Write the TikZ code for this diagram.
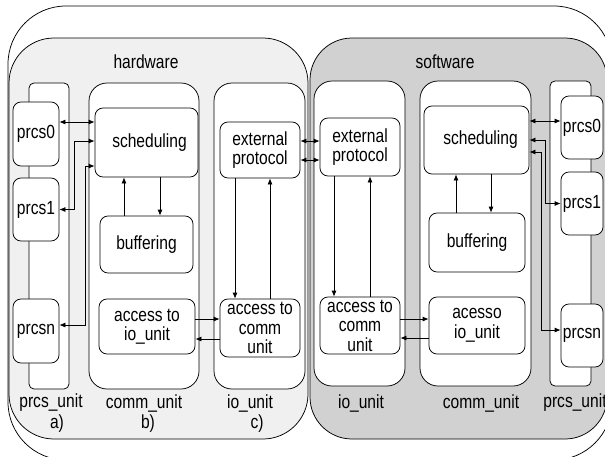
\documentclass[tikz,border=0pt]{standalone}
\usepackage{fontspec}
\setmainfont{Liberation Sans}[FakeStretch=0.82]
\usetikzlibrary{arrows.meta}

\tikzset{
  unitbox/.style={draw, fill=white, rounded corners=8pt, align=center, inner sep=1pt,
    font=\fontsize{19}{19.5}\selectfont},
  lbl/.style={font=\fontsize{19}{19.5}\selectfont, inner sep=0pt},
  colbox/.style={draw, fill=white},
  >={Latex[length=6pt,width=5pt]}
}

\begin{document}
\begin{tikzpicture}[x=1pt, y=-1pt, line width=0.75pt]
        \clip (0,0) rectangle (605,456);

        % frames
        \draw[fill=white, rounded corners=58pt] (8,6) rectangle (612,460);
        \draw[fill=black!6, rounded corners=45pt] (9,38) rectangle (308,439);
        \draw[fill=black!18, rounded corners=42pt] (310,38) rectangle (607,439);

        % hardware columns
        \draw[colbox, rounded corners=5pt] (29,83) rectangle (69,389);
        \draw[colbox, rounded corners=18pt] (89,83) rectangle (199,389);
        \draw[colbox, rounded corners=18pt] (214,83) rectangle (305,389);

        % software columns
        \draw[colbox, rounded corners=18pt] (314,81) rectangle (405,386);
        \draw[colbox, rounded corners=18pt] (420,81) rectangle (531,386);
        \draw[colbox, rounded corners=5pt] (550,81) rectangle (591,386);

        \node[lbl] (hw) at (146,62) {hardware};
        \node[lbl] (sw) at (445,62) {software};

        % hardware boxes
        \node[unitbox, minimum width=46, minimum height=64] (prcs0) at (36,134) {prcs0};
        \node[unitbox, minimum width=46, minimum height=63] (prcs1) at (36,209.5) {prcs1};
        \node[unitbox, minimum width=46, minimum height=64] (prcsn) at (36,331) {prcsn};
        \node[unitbox, minimum width=103, minimum height=69] (sched) at (146.5,142.5) {\hspace{6pt}scheduling};
        \node[unitbox, minimum width=93, minimum height=57] (buff) at (146.5,244.5) {buffering};
        \node[unitbox, minimum width=96, minimum height=55] (accIO) at (147,326.5) {access to\\io\_unit};
        \node[unitbox, minimum width=80, minimum height=56] (extP) at (260,150) {external\\protocol};
        \node[unitbox, minimum width=80, minimum height=58] (accComm) at (260,328) {access to\\comm\\unit};

        % software boxes
        \node[unitbox, minimum width=80, minimum height=58] (extP2) at (360,147) {external\\protocol};
        \node[unitbox, minimum width=80, minimum height=57] (accComm2) at (360,325.5) {access to\\comm\\unit};
        \node[unitbox, minimum width=105, minimum height=68] (sched2) at (476.5,140) {\hspace{8pt}scheduling};
        \node[unitbox, minimum width=96, minimum height=59] (buff2) at (477,242.5) {buffering};
        \node[unitbox, minimum width=96, minimum height=57] (acesso) at (477,325.5) {acesso\\io\_unit};
        \node[unitbox, minimum width=42, minimum height=63] (prcs0R) at (582,127.5) {prcs0};
        \node[unitbox, minimum width=42, minimum height=63] (prcs1R) at (582,203.5) {prcs1};
        \node[unitbox, minimum width=42, minimum height=63] (prcsnR) at (582,335.5) {prcsn};

        % column labels
        \node[lbl] (lprcs) at (51,403) {prcs\_unit};
        \node[lbl] (lcomm) at (144,403) {comm\_unit};
        \node[lbl] (lio) at (250,403) {io\_unit};
        \node[lbl] (la) at (57,424) {a)};
        \node[lbl] (lb) at (148,424) {b)};
        \node[lbl] (lc) at (257,424) {c)};
        \node[lbl] (lio2) at (361,403) {io\_unit};
        \node[lbl] (lcomm2) at (481,403) {comm\_unit};
        \node[lbl, anchor=west] (lprcs2) at (543,403) {prcs\_unit};

        % hardware connections
        \draw[<->] (prcs0.east |- 0,122) -- (sched.west |- 0,122);
        \draw[<->] (sched.west |- 0,141) -| (74,209.5) -- (prcs1.east);
        \draw[<->] (sched.west |- 0,166) -| (85,325) -- (prcsn.east |- 0,325);
        \draw[->] (buff.north -| 124,0) -- (sched.south -| 124,0);
        \draw[->] (sched.south -| 160,0) -- (buff.north -| 160,0);
        \draw[->] (accIO.east |- 0,319) -- (accComm.west |- 0,319);
        \draw[->] (accComm.west |- 0,339) -- (accIO.east |- 0,339);
        \draw[->] (extP.south -| 235,0) -- (accComm.north -| 235,0);
        \draw[->] (accComm.north -| 270,0) -- (extP.south -| 270,0);

        % hardware <-> software
        \draw[<->] (extP.east |- 0,141) -- (extP2.west |- 0,141);
        \draw[<->] (extP.east |- 0,160) -- (extP2.west |- 0,160);

        % software connections
        \draw[->] (extP2.south -| 334,0) -- (accComm2.north -| 334,0);
        \draw[->] (accComm2.north -| 370,0) -- (extP2.south -| 370,0);
        \draw[->] (accComm2.east |- 0,319) -- (acesso.west |- 0,319);
        \draw[->] (acesso.west |- 0,338) -- (accComm2.east |- 0,338);
        \draw[->] (buff2.north -| 456,0) -- (sched2.south -| 456,0);
        \draw[->] (sched2.south -| 491,0) -- (buff2.north -| 491,0);
        \draw[<->] (sched2.east |- 0,121) -- (prcs0R.west |- 0,121);
        \draw[<->] (sched2.east |- 0,140) -| (545,203.5) -- (prcs1R.west);
        \draw[<->] (sched2.east |- 0,152) -| (541,330) -- (prcsnR.west |- 0,330);
\end{tikzpicture}
\end{document}
